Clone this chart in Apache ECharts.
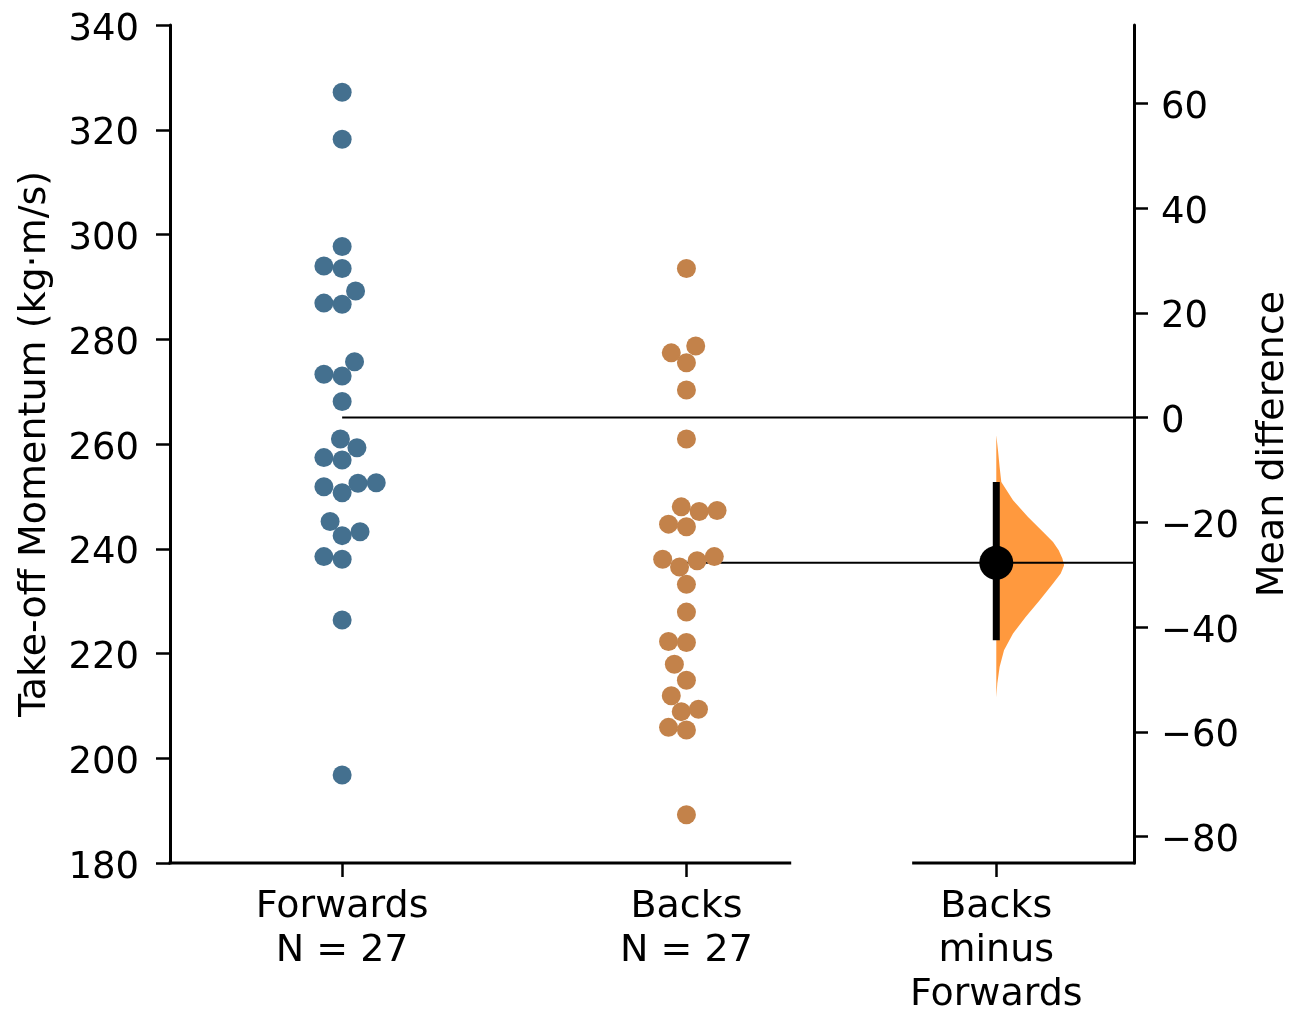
<!DOCTYPE html>
<html><head><meta charset="utf-8">
<script src="https://cdn.jsdelivr.net/npm/echarts@6/dist/echarts.min.js"></script>
<style>html,body{margin:0;padding:0;background:#fff}#c{width:1303px;height:1010px}</style>
</head><body><div id="c"></div>
<script>
// ---------------- data ----------------
const groupNames = ['Forwards', 'Backs'];
const forwards = [327.15, 318.2, 297.7, 294.0, 293.5, 289.2, 286.9, 286.7, 275.7, 273.3, 273.0, 268.1, 260.95, 259.3, 257.4, 256.95, 251.85, 250.7, 252.5, 252.6, 245.2, 242.5, 243.25, 238.5, 238.0, 226.4, 196.8];
const forwardsJitter = [0, 0, 0, -0.053, 0, 0.039, -0.053, 0, 0.036, -0.053, 0, 0, -0.005, 0.043, -0.053, 0, -0.053, 0, 0.046, 0.099, -0.035, 0, 0.052, -0.053, 0, 0, 0];
const backs = [293.5, 277.4, 278.7, 275.5, 270.3, 260.95, 248.0, 247.1, 247.3, 244.7, 244.2, 238.0, 236.5, 237.7, 238.5, 233.2, 227.9, 222.3, 222.1, 217.95, 214.9, 211.95, 208.9, 209.35, 205.9, 205.4, 189.2];
const backsJitter = [0, -0.044, 0.027, 0, 0, 0, -0.015, 0.037, 0.089, -0.052, 0, -0.069, -0.020, 0.031, 0.081, 0, 0, -0.052, 0, -0.035, 0, -0.044, -0.015, 0.035, -0.052, 0, 0];
const diffName = 'Backs\nminus\nForwards';
const leftTicks = [180, 200, 220, 240, 260, 280, 300, 320, 340];
const rightTicks = [-80, -60, -40, -20, 0, 20, 40, 60];
const ciLow = -42.5, ciHigh = -12.3;
// bootstrap distribution of mean difference (relative density)
const violinDiff =    [-3.4, -6.25, -9.44, -12.3, -15.8, -19.0, -22.16, -23.76, -25.35, -26.93, -28.21, -29.79, -31.7, -34.89, -38.08, -41.25, -44.44, -47.63, -50.8, -53.4];
const violinDensity = [0, 0.025, 0.049, 0.074, 0.247, 0.468, 0.713, 0.837, 0.920, 0.975, 1.0, 0.950, 0.837, 0.640, 0.433, 0.247, 0.114, 0.049, 0.015, 0];

// ---------------- derived ----------------
const mean = a => a.reduce((s, v) => s + v, 0) / a.length;
const fMean = mean(forwards), bMean = mean(backs), meanDiff = bMean - fMean;
const yMin = leftTicks[0], yMax = leftTicks[leftTicks.length - 1];
const xMin = -0.5, xMax = 2.3, diffX = 1.9;
const leftAxisEnd = 1.3, rightAxisStart = 1.66;
const violinHalfWidth = 0.197;
const xLabels = {0: groupNames[0] + '\nN = ' + forwards.length, 1: groupNames[1] + '\nN = ' + backs.length};
xLabels[diffX] = diffName;

const blue = '#44708f', orange = '#c3824a', violinColor = '#ff7f0e';
const font = 'DejaVu Sans';

const chart = echarts.init(document.getElementById('c'), null, {renderer: 'canvas'});
chart.setOption({
  animation: false,
  backgroundColor: '#fff',
  textStyle: {fontFamily: font},
  grid: {left: 170, right: 169, top: 25, bottom: 147, containLabel: false, outerBoundsMode: 'none'},
  xAxis: {
    type: 'value', min: xMin, max: xMax,
    axisLine: {show: false, onZero: false},
    splitLine: {show: false},
    axisTick: {show: true, customValues: [0, 1, diffX], length: 14, lineStyle: {color: '#000', width: 2.5}},
    axisLabel: {
      customValues: [0, 1, diffX], margin: 22,
      fontSize: 38, lineHeight: 44, color: '#000', fontFamily: font,
      formatter: v => xLabels[v] || ''
    }
  },
  yAxis: [{
    type: 'value', min: yMin, max: yMax, interval: 20, position: 'left',
    name: 'Take-off Momentum (kg·m/s)', nameLocation: 'middle', nameRotate: 90, nameGap: 116,
    nameTextStyle: {fontSize: 38, color: '#000', fontFamily: font},
    axisLine: {show: true, onZero: false, lineStyle: {color: '#000', width: 3}},
    axisTick: {show: true, length: 14, lineStyle: {color: '#000', width: 2.5}},
    axisLabel: {fontSize: 37, color: '#000', margin: 31, verticalAlign: 'top', lineHeight: 10, fontFamily: font, showMinLabel: true, showMaxLabel: true},
    splitLine: {show: false}
  }, {
    type: 'value', min: yMin - fMean, max: yMax - fMean, position: 'right',
    name: 'Mean difference', nameLocation: 'middle', nameRotate: 90, nameGap: 120,
    nameTextStyle: {fontSize: 38, color: '#000', fontFamily: font},
    axisLine: {show: true, onZero: false, lineStyle: {color: '#000', width: 3}},
    axisTick: {show: true, customValues: rightTicks, length: 14, lineStyle: {color: '#000', width: 2.5}},
    axisLabel: {customValues: rightTicks, fontSize: 37, color: '#000', margin: 27, verticalAlign: 'top', lineHeight: 10, fontFamily: font,
      formatter: v => String(v).replace('-', '\u2212')},
    splitLine: {show: false}
  }],
  series: [
    { // bootstrap half-violin
      type: 'custom', xAxisIndex: 0, yAxisIndex: 1, data: [0], z: 1, silent: true, clip: false,
      renderItem: (params, api) => {
        const pts = [];
        for (let i = 0; i < violinDiff.length; i++) pts.push(api.coord([diffX + violinDensity[i] * violinHalfWidth, violinDiff[i]]));
        for (let i = violinDiff.length - 1; i >= 0; i--) pts.push(api.coord([diffX, violinDiff[i]]));
        return {type: 'polygon', shape: {points: pts}, style: {fill: violinColor, opacity: 0.8}};
      }
    },
    { // x-axis segments
      type: 'line', yAxisIndex: 0, data: [[xMin, yMin], [leftAxisEnd, yMin]], symbol: 'none', clip: false, z: 5, silent: true,
      lineStyle: {color: '#000', width: 3, cap: 'square'}
    },
    {
      type: 'line', yAxisIndex: 0, data: [[rightAxisStart, yMin], [xMax, yMin]], symbol: 'none', clip: false, z: 5, silent: true,
      lineStyle: {color: '#000', width: 3, cap: 'square'}
    },
    { // reference line at Forwards mean
      type: 'line', yAxisIndex: 0, data: [[0, fMean], [xMax, fMean]], symbol: 'none', clip: false, z: 3, silent: true,
      lineStyle: {color: '#000', width: 2}
    },
    { // reference line at Backs mean
      type: 'line', yAxisIndex: 0, data: [[1, bMean], [xMax, bMean]], symbol: 'none', clip: false, z: 3, silent: true,
      lineStyle: {color: '#000', width: 2}
    },
    {
      type: 'scatter', yAxisIndex: 0, symbolSize: 19, z: 4,
      itemStyle: {color: blue, opacity: 1},
      data: forwards.map((v, i) => [0 + forwardsJitter[i], v])
    },
    {
      type: 'scatter', yAxisIndex: 0, symbolSize: 19, z: 4,
      itemStyle: {color: orange, opacity: 1},
      data: backs.map((v, i) => [1 + backsJitter[i], v])
    },
    { // 95% CI
      type: 'line', yAxisIndex: 1, data: [[diffX, ciLow], [diffX, ciHigh]], symbol: 'none', z: 6, silent: true,
      lineStyle: {color: '#000', width: 7, cap: 'butt'}
    },
    { // mean difference
      type: 'scatter', yAxisIndex: 1, symbolSize: 34, z: 7,
      itemStyle: {color: '#000', opacity: 1},
      data: [[diffX, meanDiff]]
    }
  ]
});
</script>
</body></html>
